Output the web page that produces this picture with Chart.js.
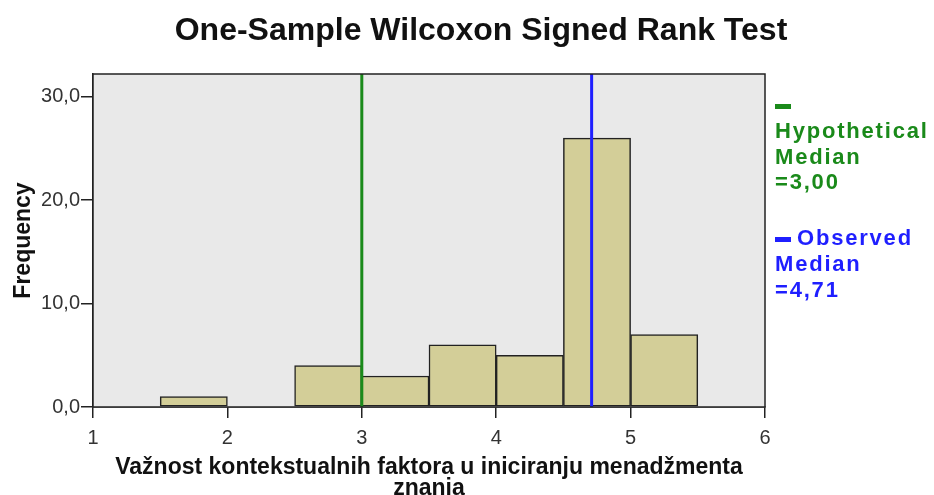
<!DOCTYPE html>
<html>
<head>
<meta charset="utf-8">
<script src="https://cdn.jsdelivr.net/npm/chart.js@4/dist/chart.umd.min.js"></script>
<style>
	html, body { margin: 0; padding: 0; background: #fff; }
	#wrap { position: relative; width: 934px; height: 495px; }
	#title {
		position: absolute; left: 0; top: 11px; width: 962px; text-align: center;
		font: bold 32px "Liberation Sans", Arial, sans-serif; color: #111;
	}
	.note {
		position: absolute; left: 775px;
		font: bold 22px "Liberation Sans", Arial, sans-serif; line-height: 25.8px; letter-spacing: 1.8px;
	}
	.mark { display: inline-block; width: 16px; height: 5px; vertical-align: middle; margin-right: 6px; }
</style>
</head>
<body>
<div id="wrap">
	<canvas id="chart" width="934" height="495"></canvas>
	<div id="title">One-Sample Wilcoxon Signed Rank Test</div>
	<div class="note" id="hyp" style="top: 92px; color: #1a8a1a;"></div>
	<div class="note" id="obs" style="top: 225px; color: #1f1fff;"></div>
</div>
<script>
const binStarts = [1.5, 2.0, 2.5, 3.0, 3.5, 4.0, 4.5, 5.0];
const binWidth = 0.5;
const counts = [1, 0, 4, 3, 6, 5, 26, 7];
const xTicks = [1, 2, 3, 4, 5, 6];
const yTicks = [0, 10, 20, 30];
const hypotheticalMedian = 3.00;
const observedMedian = 4.71;
const yTop = 32.2;

const greenColor = '#1a8a1a';
const blueColor = '#1f1fff';

function fmt(value, digits) {
	return value.toFixed(digits).replace('.', ',');
}

document.getElementById('hyp').innerHTML =
	'<span class="mark" style="background:' + greenColor + '"></span><br>Hypothetical<br>Median<br>=' + fmt(hypotheticalMedian, 2);
document.getElementById('obs').innerHTML =
	'<span class="mark" style="background:' + blueColor + '"></span>Observed<br>Median<br>=' + fmt(observedMedian, 2);

const barPoints = [];
binStarts.forEach((start, i) => {
	if (counts[i] > 0) {
		barPoints.push({ x: start + binWidth / 2, y: counts[i] });
	}
});

const plotBackground = {
	id: 'plotBackground',
	beforeDatasetsDraw(chart) {
		const a = chart.chartArea;
		const ctx = chart.ctx;
		ctx.save();
		ctx.fillStyle = '#e9e9e9';
		ctx.fillRect(a.left, a.top, a.right - a.left, a.bottom - a.top);
		ctx.restore();
	},
	afterDatasetsDraw(chart) {
		const a = chart.chartArea;
		const ctx = chart.ctx;
		ctx.save();
		ctx.strokeStyle = '#222';
		ctx.lineWidth = 1.5;
		ctx.strokeRect(a.left, a.top, a.right - a.left, a.bottom - a.top);
		ctx.restore();
	}
};

const tickFont = { family: '"Liberation Sans", Arial, sans-serif', size: 20 };
const titleFont = { family: '"Liberation Sans", Arial, sans-serif', size: 23, weight: 'bold', lineHeight: 0.9 };

new Chart(document.getElementById('chart').getContext('2d'), {
	type: 'bar',
	data: {
		datasets: [
			{
				type: 'line',
				data: [{ x: hypotheticalMedian, y: 0 }, { x: hypotheticalMedian, y: yTop }],
				borderColor: greenColor,
				borderWidth: 3,
				pointRadius: 0,
				order: 0
			},
			{
				type: 'line',
				data: [{ x: observedMedian, y: 0 }, { x: observedMedian, y: yTop }],
				borderColor: blueColor,
				borderWidth: 3,
				pointRadius: 0,
				order: 0
			},
			{
				type: 'bar',
				data: barPoints,
				backgroundColor: '#d3ce98',
				borderColor: '#222',
				borderWidth: 1.5,
				borderSkipped: false,
				barPercentage: 1,
				categoryPercentage: 1,
				order: 1
			}
		]
	},
	options: {
		responsive: false,
		animation: false,
		layout: { padding: { top: 74, right: 169, left: 0, bottom: 0 } },
		plugins: {
			legend: { display: false },
			tooltip: { enabled: false },
			title: { display: false }
		},
		scales: {
			x: {
				type: 'linear',
				min: 1,
				max: 6,
				offset: false,
				afterBuildTicks: (scale) => { scale.ticks = xTicks.map((v) => ({ value: v })); },
				afterFit: (scale) => { scale.height = 88; },
				grid: { offset: false, drawOnChartArea: false, drawTicks: true, tickLength: 11, color: '#222', lineWidth: 1.5 },
				border: { display: true, color: '#222', width: 1.5 },
				ticks: { font: tickFont, color: '#333', padding: 8, maxRotation: 0, callback: (v) => String(v) },
				title: {
					display: true,
					text: ['Važnost kontekstualnih faktora u iniciranju menadžmenta', 'znanja'],
					font: titleFont,
					color: '#111',
					padding: { top: 0, bottom: -4 }
				}
			},
			y: {
				type: 'linear',
				min: 0,
				max: yTop,
				afterBuildTicks: (scale) => { scale.ticks = yTicks.map((v) => ({ value: v })); },
				afterFit: (scale) => { scale.width = 93; },
				grid: { drawOnChartArea: false, drawTicks: true, tickLength: 12, color: '#222', lineWidth: 1.5 },
				border: { display: true, color: '#222', width: 1.5 },
				ticks: { font: tickFont, color: '#333', padding: 1, callback: (v) => fmt(v, 1) },
				title: {
					display: true,
					text: 'Frequency',
					font: { family: '"Liberation Sans", Arial, sans-serif', size: 23, weight: 'bold' },
					color: '#111',
					padding: { top: 10, bottom: 0 }
				}
			}
		}
	},
	plugins: [plotBackground]
});
</script>
</body>
</html>
